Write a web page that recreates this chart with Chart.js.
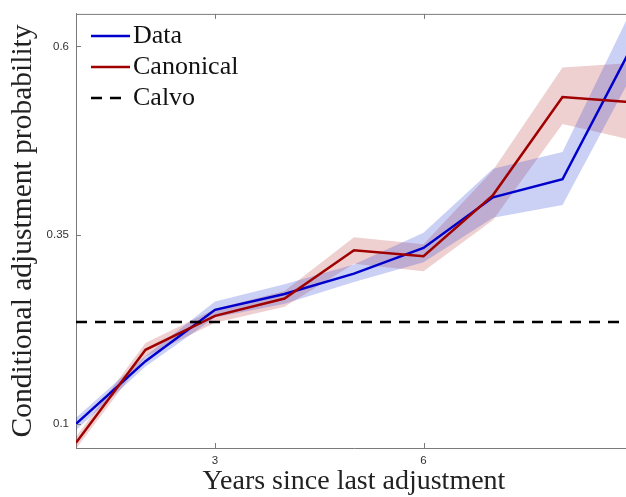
<!DOCTYPE html>
<html>
<head>
<meta charset="utf-8">
<script src="https://cdn.jsdelivr.net/npm/chart.js@4.4.1/dist/chart.umd.min.js"></script>
<style>
  html, body { margin: 0; padding: 0; background: #fff; overflow: hidden; }
  #wrap { width: 640px; height: 497px; }
</style>
</head>
<body>
<div id="wrap"><canvas id="hazard" width="640" height="497"></canvas></div>
<script>
// years since the last price change
const YEARS = [1, 2, 3, 4, 5, 6, 7, 8, 9];

// empirical hazard with its confidence band
const DATA    = [0.100, 0.183, 0.251, 0.272, 0.299, 0.333, 0.400, 0.424, 0.600];
const DATA_LO = [0.092, 0.176, 0.241, 0.259, 0.288, 0.314, 0.373, 0.390, 0.562];
const DATA_HI = [0.108, 0.190, 0.262, 0.285, 0.311, 0.353, 0.438, 0.460, 0.650];

// canonical model hazard with its band
const CANON    = [0.075, 0.198, 0.243, 0.266, 0.330, 0.322, 0.403, 0.533, 0.526];
const CANON_LO = [0.067, 0.189, 0.234, 0.255, 0.312, 0.302, 0.370, 0.497, 0.476];
const CANON_HI = [0.083, 0.207, 0.252, 0.276, 0.347, 0.338, 0.436, 0.572, 0.578];

// constant Calvo hazard
const CALVO = [0.235, 0.235, 0.235, 0.235, 0.235, 0.235, 0.235, 0.235, 0.235];

const X_TICKS = [3, 6];
const Y_TICKS = [0.1, 0.35, 0.6];

const BLUE = '#0000cc';
const RED = '#a00000';
const AXIS_COLOR = '#7a7a7a';
const SERIF = '"Liberation Serif", "Times New Roman", serif';
const SANS = '"Liberation Sans", Arial, sans-serif';

const pts = arr => arr.map((v, i) => ({ x: YEARS[i], y: v }));

function band(lo, hi, color) {
  return [
    { data: pts(lo), borderWidth: 0, pointRadius: 0, fill: false, order: 3 },
    { data: pts(hi), borderWidth: 0, pointRadius: 0, fill: '-1', backgroundColor: color, order: 3 }
  ];
}

// box frame, inward ticks and the legend in the upper left corner
const frame = {
  id: 'frame',
  afterDraw(chart) {
    const { ctx, chartArea: a, scales: { x, y } } = chart;
    ctx.save();
    ctx.strokeStyle = AXIS_COLOR;
    ctx.lineWidth = 1;
    ctx.beginPath();
    ctx.moveTo(a.left, a.top + 0.5); ctx.lineTo(a.right, a.top + 0.5);
    ctx.moveTo(a.right - 0.5, a.top); ctx.lineTo(a.right - 0.5, a.bottom);
    X_TICKS.forEach(v => {
      const px = Math.round(x.getPixelForValue(v)) + 0.5;
      ctx.moveTo(px, a.bottom); ctx.lineTo(px, a.bottom - 5);
      ctx.moveTo(px, a.top); ctx.lineTo(px, a.top + 5);
    });
    Y_TICKS.forEach(v => {
      const py = Math.round(y.getPixelForValue(v)) + 0.5;
      ctx.moveTo(a.left, py); ctx.lineTo(a.left + 5, py);
      ctx.moveTo(a.right, py); ctx.lineTo(a.right - 5, py);
    });
    ctx.stroke();

    // legend
    const entries = chart.data.datasets.filter(d => d.label);
    ctx.font = '26px ' + SERIF;
    ctx.textBaseline = 'middle';
    ctx.fillStyle = '#111';
    entries.forEach((d, i) => {
      const yy = 36 + i * 31;
      const dashed = !!d.borderDash;
      ctx.strokeStyle = d.borderColor;
      ctx.lineWidth = d.borderWidth;
      ctx.setLineDash(dashed ? [11, 8] : []);
      ctx.beginPath();
      ctx.moveTo(91, yy); ctx.lineTo(dashed ? 121 : 130, yy);
      ctx.stroke();
      ctx.setLineDash([]);
      ctx.fillText(d.label, 133, yy);
    });
    ctx.restore();
  }
};

new Chart(document.getElementById('hazard'), {
  type: 'line',
  data: {
    datasets: [
      ...band(DATA_LO, DATA_HI, 'rgba(20, 40, 210, 0.22)'),
      ...band(CANON_LO, CANON_HI, 'rgba(170, 20, 20, 0.2)'),
      { label: 'Data', data: pts(DATA), borderColor: BLUE, borderWidth: 2.5, pointRadius: 0, fill: false, order: 2 },
      { label: 'Canonical', data: pts(CANON), borderColor: RED, borderWidth: 2.5, pointRadius: 0, fill: false, order: 1 },
      { label: 'Calvo', data: pts(CALVO), borderColor: '#000', borderWidth: 2.5, borderDash: [11, 8], pointRadius: 0, fill: false, order: 0 }
    ]
  },
  options: {
    responsive: false,
    animation: false,
    events: [],
    layout: { padding: { top: 8, right: 8, left: 0, bottom: 0 } },
    plugins: { legend: { display: false }, tooltip: { enabled: false } },
    scales: {
      x: {
        type: 'linear', min: 1, max: 9,
        afterBuildTicks: s => { s.ticks = X_TICKS.map(v => ({ value: v })); },
        afterFit: s => { s.height = 49; },
        grid: { display: false, drawTicks: false },
        border: { display: true, color: AXIS_COLOR, width: 1 },
        ticks: { padding: 6, color: '#333', font: { family: SANS, size: 11.5 }, callback: v => String(v) },
        title: { display: true, text: 'Years since last adjustment', color: '#222',
                 font: { family: SERIF, size: 28, lineHeight: 1 }, padding: { top: 0, bottom: 1 } }
      },
      y: {
        type: 'linear', min: 0.068, max: 0.643,
        afterBuildTicks: s => { s.ticks = Y_TICKS.map(v => ({ value: v })); },
        afterFit: s => { s.width = 76; },
        grid: { display: false, drawTicks: false },
        border: { display: true, color: AXIS_COLOR, width: 1 },
        ticks: { padding: 7, color: '#333', font: { family: SANS, size: 11.5 }, callback: v => String(v) },
        title: { display: true, text: 'Conditional adjustment probability', color: '#222',
                 font: { family: SERIF, size: 29.5, lineHeight: 1 }, padding: { top: 8, bottom: 0 } }
      }
    }
  },
  plugins: [frame]
});
</script>
</body>
</html>
